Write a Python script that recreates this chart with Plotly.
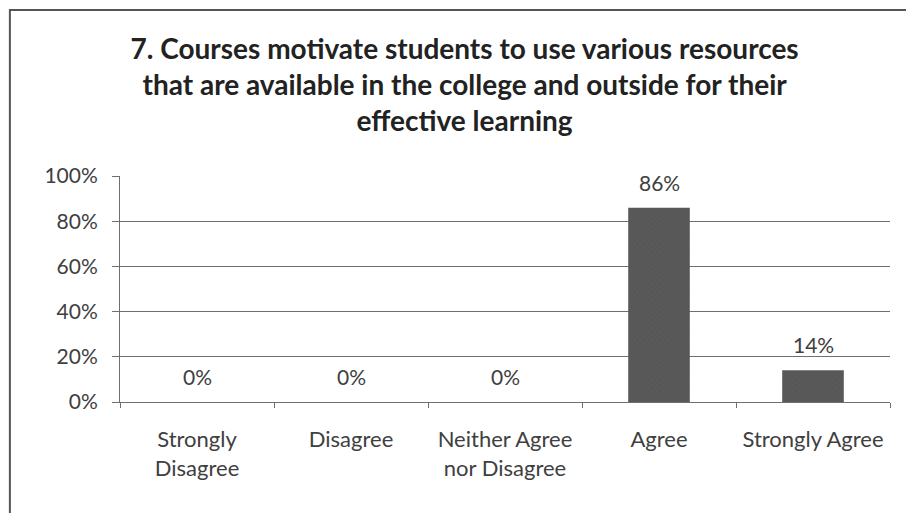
import plotly.graph_objects as go

categories = ["Strongly<br>Disagree", "Disagree", "Neither Agree<br>nor Disagree", "Agree", "Strongly Agree"]
shares = [0, 0, 0, 86, 14]
labels = ["0%", "0%", "0%", "86%", "14%"]
y_ticks = [0, 20, 40, 60, 80, 100]
y_tick_text = ["0%", "20%", "40%", "60%", "80%", "100%"]

title = ("7. Courses motivate students to use various resources<br>"
         "that are available in the college and outside for their<br>"
         "effective learning")

font_family = "Lato, 'Open Sans', sans-serif"
grid = "#6e6e6e"

fig = go.Figure(go.Bar(
    x=categories,
    y=shares,
    marker=dict(color="#575757", line=dict(width=0),
                pattern=dict(shape="x", fgcolor="#666666", size=4, solidity=0.15)),
    width=0.4,
))

# data labels sit a little above each bar, like the original
for cat, val, lab in zip(categories, shares, labels):
    fig.add_annotation(x=cat, y=val, text=lab, showarrow=False,
                       yanchor="bottom", yshift=11,
                       font=dict(size=21, color="#404040", family=font_family))

fig.update_layout(
    width=906, height=505,
    paper_bgcolor="white", plot_bgcolor="white",
    margin=dict(l=112, r=24, t=168, b=111),
    font=dict(family=font_family, color="#404040"),
    title=dict(text=title, x=0.504, xanchor="center", xref="container",
               y=0.90, yanchor="top", yref="container",
               font=dict(size=28, color="#222222", family=font_family, weight="bold")),
    showlegend=False,
    shapes=[dict(type="rect", xref="paper", yref="paper", x0=-0.143, x1=1.2, y0=-1.0, y1=1.735,
                 line=dict(color="#555555", width=2), layer="below")],
)

fig.update_yaxes(
    range=[0, 100], tickvals=y_ticks, ticktext=y_tick_text,
    showgrid=True, gridcolor=grid, gridwidth=1,
    ticks="outside", ticklen=7, tickcolor=grid,
    showline=True, linecolor=grid, linewidth=1,
    tickfont=dict(size=21, color="#404040"),
    ticklabelstandoff=10,
    zeroline=False, automargin=False,
)
fig.update_xaxes(
    tickson="boundaries", ticks="outside", ticklen=5, tickcolor=grid,
    showline=True, linecolor=grid, linewidth=1,
    tickfont=dict(size=22, color="#404040"),
    tickangle=0, ticklabelstandoff=18, automargin=False,
)

fig.write_html("out.html")
